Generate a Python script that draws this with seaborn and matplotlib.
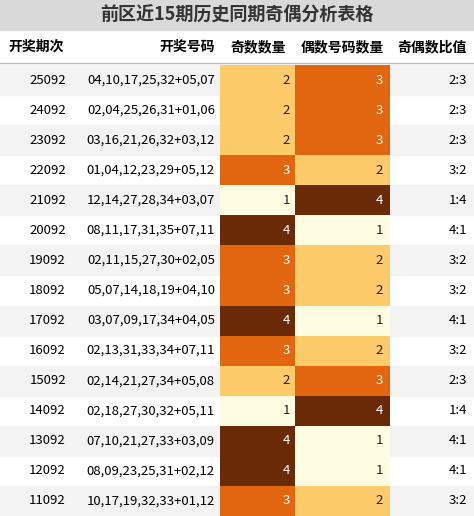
import matplotlib
matplotlib.use("Agg")
import matplotlib.pyplot as plt
import seaborn as sns
import numpy as np
from matplotlib.colors import ListedColormap
from matplotlib.patches import Rectangle

periods = ["25092","24092","23092","22092","21092","20092","19092","18092","17092","16092","15092","14092","13092","12092","11092"]
numbers = ["04,10,17,25,32+05,07","02,04,25,26,31+01,06","03,16,21,26,32+03,12","01,04,12,23,29+05,12",
           "12,14,27,28,34+03,07","08,11,17,31,35+07,11","02,11,15,27,30+02,05","05,07,14,18,19+04,10",
           "03,07,09,17,34+04,05","02,13,31,33,34+07,11","02,14,21,27,34+05,08","02,18,27,30,32+05,11",
           "07,10,21,27,33+03,09","08,09,23,25,31+02,12","10,17,19,32,33+01,12"]
odd_counts = [2,2,2,3,1,4,3,3,4,3,2,1,4,4,3]
even_counts = [3,3,3,2,4,1,2,2,1,2,3,4,1,1,2]
ratios = ["2:3","2:3","2:3","3:2","1:4","4:1","3:2","3:2","4:1","3:2","2:3","1:4","4:1","4:1","3:2"]
headers = ["开奖期次","开奖号码","奇数数量","偶数号码数量","奇偶数比值"]
title = "前区近15期历史同期奇偶分析表格"

plt.rcParams['font.family'] = ['Noto Sans CJK SC', 'DejaVu Sans']
W, H = 474, 516
fig = plt.figure(figsize=(W/100, H/100), dpi=100)
bg = fig.add_axes([0, 0, 1, 1])
bg.set_xlim(0, W); bg.set_ylim(H, 0); bg.axis('off')

top = 65; n = len(periods); rh = (H - top) / n
bg.add_patch(Rectangle((0, 0), W, 30, color='#D9D9D9'))
bg.text(W/2, 15, title, ha='center', va='center', fontsize=13, fontweight='bold', color='#333333')
hy = 47
bg.text(8, hy, headers[0], ha='left', va='center', fontsize=10, fontweight='bold')
bg.text(215, hy, headers[1], ha='right', va='center', fontsize=10, fontweight='bold')
bg.text(258, hy, headers[2], ha='center', va='center', fontsize=10, fontweight='bold')
bg.text(342, hy, headers[3], ha='center', va='center', fontsize=10, fontweight='bold')
bg.text(432, hy, headers[4], ha='center', va='center', fontsize=10, fontweight='bold')
bg.plot([0, W], [63, 63], color='#BBBBBB', lw=1)
for i in range(n):
    y0 = top + i * rh
    if i % 2 == 0:
        bg.add_patch(Rectangle((0, y0), W, rh, color='#F3F3F3', zorder=0))
    yc = y0 + rh/2
    bg.text(66, yc, periods[i], ha='right', va='center', fontsize=9.5)
    bg.text(215, yc, numbers[i], ha='right', va='center', fontsize=9.5)
    bg.text(467, yc, ratios[i], ha='right', va='center', fontsize=9.5)

cmap = ListedColormap(['#FFFDE1', '#FDCB6A', '#E2660F', '#6B2A07'])
for vals, x0, x1 in [(odd_counts, 220, 295), (even_counts, 295, 390)]:
    ax = fig.add_axes([x0/W, 0, (x1-x0)/W, (H-top)/H])
    data = np.array(vals).reshape(-1, 1)
    sns.heatmap(data, ax=ax, cmap=cmap, vmin=0.5, vmax=4.5, cbar=False,
                xticklabels=False, yticklabels=False, annot=False)
    for i, v in enumerate(vals):
        ax.text(0.93, i + 0.5, str(v), ha='right', va='center', fontsize=9.5,
                color='white' if v >= 3 else '#222222')

fig.savefig("out.png", dpi=100)
